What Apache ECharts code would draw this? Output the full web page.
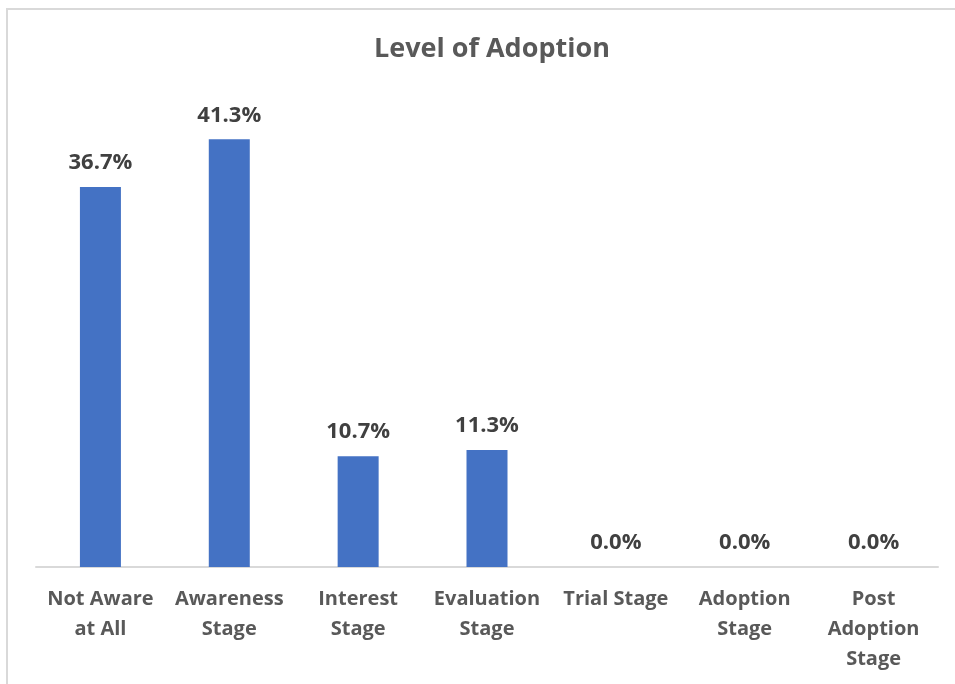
<!DOCTYPE html>
<html>
<head>
<meta charset="utf-8">
<script src="https://cdn.jsdelivr.net/npm/echarts@6/dist/echarts.min.js"></script>
<style>
  html, body { margin: 0; padding: 0; background: #fff; }
  #chart { width: 955px; height: 684px; }
</style>
</head>
<body>
<div id="chart"></div>
<script>
const stages = ['Not Aware\nat All', 'Awareness\nStage', 'Interest\nStage', 'Evaluation\nStage', 'Trial Stage', 'Adoption\nStage', 'Post\nAdoption\nStage']
const shares = [36.7, 41.3, 10.7, 11.3, 0.0, 0.0, 0.0]

const chart = echarts.init(document.getElementById('chart'))

chart.setOption({
  backgroundColor: '#fff',
  animation: false,
  textStyle: { fontFamily: 'Open Sans' },
  graphic: [
    {
      type: 'rect',
      shape: { x: 7, y: 9, width: 960, height: 700 },
      style: { fill: 'none', stroke: '#d9d9d9', lineWidth: 2 },
      silent: true,
    },
  ],
  title: {
    text: 'Level of Adoption',
    left: 369,
    top: 31,
    textStyle: {
      color: '#595959',
      fontSize: 27,
      fontWeight: 'bold',
      fontFamily: 'Open Sans',
    },
  },
  grid: {
    left: 36,
    right: 17,
    top: 101,
    bottom: 117,
    containLabel: false,
  },
  xAxis: {
    type: 'category',
    data: stages,
    axisLine: { lineStyle: { color: '#d9d9d9', width: 2 } },
    axisTick: { show: false },
    axisLabel: {
      interval: 0,
      color: '#595959',
      fontSize: 20,
      fontWeight: 'bold',
      lineHeight: 30,
      margin: 17,
      fontFamily: 'Open Sans',
    },
  },
  yAxis: {
    type: 'value',
    min: 0,
    max: 45,
    show: false,
    splitLine: { show: false },
  },
  series: [
    {
      type: 'bar',
      data: shares,
      barWidth: 41,
      itemStyle: { color: '#4472c4' },
      label: {
        show: true,
        position: 'top',
        distance: 13,
        color: '#404040',
        fontSize: 22,
        fontWeight: 'bold',
        fontFamily: 'Open Sans',
        formatter: (p) => p.value.toFixed(1) + '%',
      },
    },
  ],
})
</script>
</body>
</html>
